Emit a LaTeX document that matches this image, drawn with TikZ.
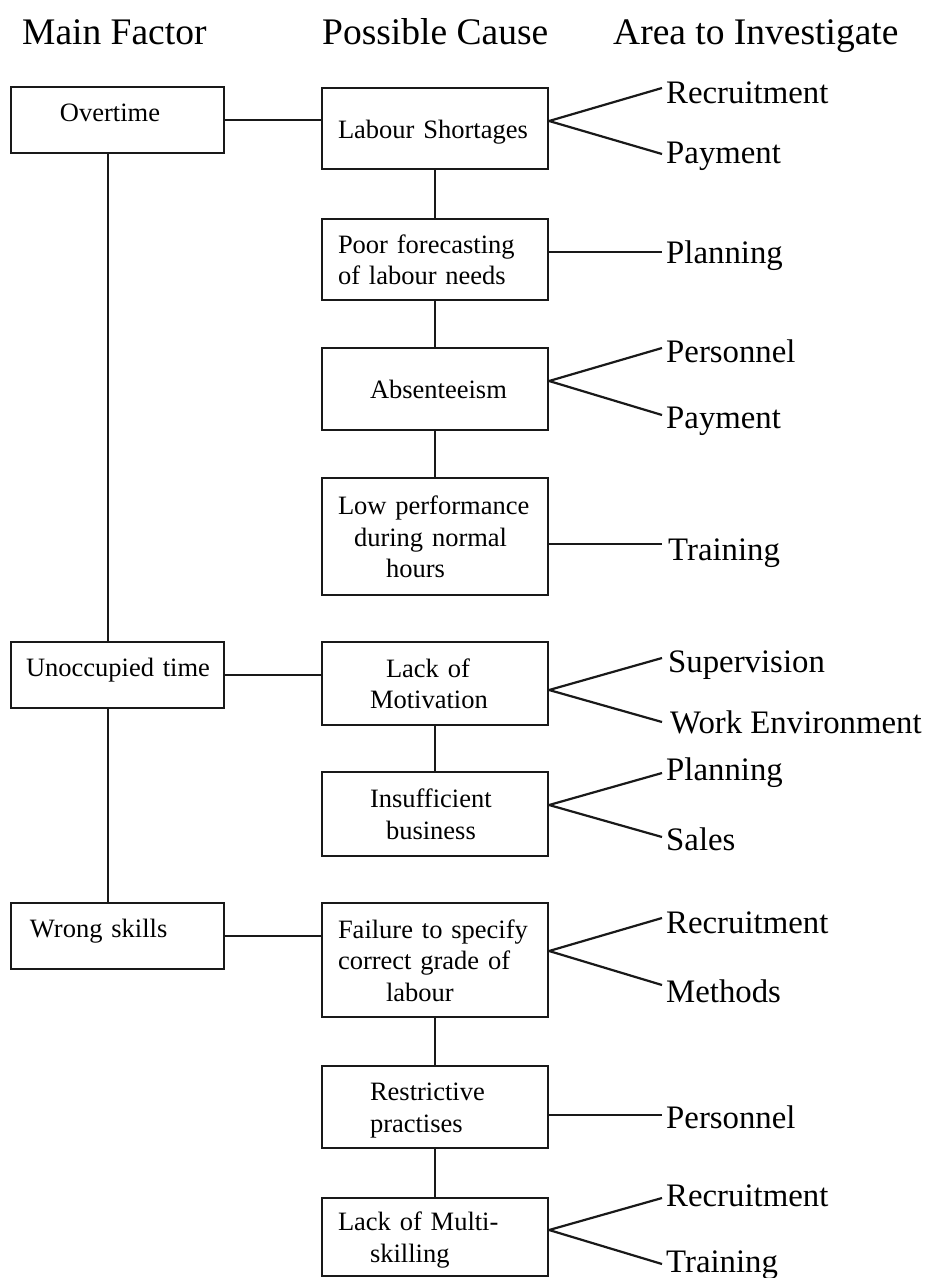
\documentclass[tikz,border=0pt]{standalone}
\usepackage{fontspec}
\setmainfont{Liberation Serif}
% struts that fix the line height inside the boxes
\newcommand\ms{\rule[-6pt]{0pt}{31pt}}
\newcommand\lms{\rule[-16pt]{0pt}{35pt}}
% left indent of a line inside a box
\newcommand\tabin[1]{\hspace*{#1pt}}
\begin{document}
\begin{tikzpicture}[x=1pt,y=-1pt,
  ink/.style={draw=black!90, line width=2.2pt},
  mainbox/.style={ink, rectangle, minimum width=213pt, inner xsep=12pt, inner ysep=0pt,
    text width=189pt, align=left, font=\fontsize{26.5}{31.5}\selectfont},
  causebox/.style={ink, rectangle, minimum width=226pt, inner xsep=16pt, inner ysep=0pt,
    text width=194pt, align=left, font=\fontsize{26.5}{31.5}\selectfont},
  area/.style={anchor=base west, inner sep=0pt, font=\fontsize{32.8}{38}\selectfont},
  head/.style={anchor=base west, inner sep=0pt, font=\fontsize{37.5}{44}\selectfont},
  link/.style={draw=black!90, line width=2.2pt}]
\useasboundingbox (0,0) rectangle (930,1278);

% column headings
\node[head] (h1) at (22,44) {Main Factor};
\node[head] (h2) at (322,44) {Possible Cause};
\node[head] (h3) at (613,44) {Area to Investigate};

% main factors
\node[mainbox, minimum height=66pt] (ot) at (117.5,120) {\lms\tabin{37}Overtime};
\node[mainbox, minimum height=66pt] (un) at (117.5,675) {\lms\mbox{\tabin{3}Unoccupied time}};
\node[mainbox, minimum height=66pt] (ws) at (117.5,936) {\lms\tabin{7}Wrong skills};

% possible causes
\node[causebox, minimum height=81pt] (lab) at (435,128.5) {\ms Labour Shortages};
\node[causebox, minimum height=81pt] (poor) at (435,259.5) {\ms Poor forecasting\\\ms of labour needs};
\node[causebox, minimum height=82pt] (abs) at (435,389) {\ms\tabin{32}Absenteeism};
\node[causebox, minimum height=117pt] (low) at (435,536.5) {\ms Low performance\\\ms\tabin{16}during normal\\\ms\tabin{48}hours};
\node[causebox, minimum height=83pt] (mot) at (435,683.5) {\ms\tabin{48}Lack of\\\ms\tabin{32}Motivation};
\node[causebox, minimum height=84pt] (ins) at (435,814) {\ms\tabin{32}Insufficient\\\ms\tabin{48}business};
\node[causebox, minimum height=114pt] (fail) at (435,960) {\ms Failure to specify\\\ms correct grade of\\\ms\tabin{48}labour};
\node[causebox, minimum height=82pt] (res) at (435,1107) {\ms\tabin{32}Restrictive\\\ms\tabin{32}practises};
\node[causebox, minimum height=78pt] (mul) at (435,1237) {\ms Lack of Multi-\\\ms\tabin{32}skilling};

% areas to investigate
\node[area] (a1) at (666,103) {Recruitment};
\node[area] (a2) at (666,163) {Payment};
\node[area] (a3) at (666,263) {Planning};
\node[area] (a4) at (666,362) {Personnel};
\node[area] (a5) at (666,428) {Payment};
\node[area] (a6) at (668,560) {Training};
\node[area] (a7) at (668,672) {Supervision};
\node[area] (a8) at (670,733) {Work Environment};
\node[area] (a9) at (666,780) {Planning};
\node[area] (a10) at (666,850) {Sales};
\node[area] (a11) at (666,933) {Recruitment};
\node[area] (a12) at (666,1002) {Methods};
\node[area] (a13) at (666,1128) {Personnel};
\node[area] (a14) at (666,1206) {Recruitment};
\node[area] (a15) at (666,1272) {Training};

% trunk of the main factors
\draw[link] ([xshift=-9.5pt]ot.south) -- ([xshift=-9.5pt]un.north);
\draw[link] ([xshift=-9.5pt]un.south) -- ([xshift=-9.5pt]ws.north);

% main factor to first cause
\draw[link] (ot.east) -- (ot.east -| lab.west);
\draw[link] (un.east) -- (un.east -| mot.west);
\draw[link] (ws.east) -- (ws.east -| fail.west);

% chains of causes
\draw[link] (lab.south) -- (poor.north);
\draw[link] (poor.south) -- (abs.north);
\draw[link] (abs.south) -- (low.north);
\draw[link] (mot.south) -- (ins.north);
\draw[link] (fail.south) -- (res.north);
\draw[link] (res.south) -- (mul.north);

% causes to areas
\draw[link] ([yshift=7.5pt]lab.east) -- ([xshift=-4pt,yshift=15pt]a1.base west);
\draw[link] ([yshift=7.5pt]lab.east) -- ([xshift=-4pt,yshift=9pt]a2.base west);
\draw[link] ([yshift=7.5pt]poor.east) -- ([xshift=-4pt,yshift=11pt]a3.base west);
\draw[link] ([yshift=8pt]abs.east) -- ([xshift=-4pt,yshift=14pt]a4.base west);
\draw[link] ([yshift=8pt]abs.east) -- ([xshift=-4pt,yshift=13pt]a5.base west);
\draw[link] ([yshift=-7.5pt]low.east) -- ([xshift=-6pt,yshift=16pt]a6.base west);
\draw[link] ([yshift=-6.5pt]mot.east) -- ([xshift=-6pt,yshift=14pt]a7.base west);
\draw[link] ([yshift=-6.5pt]mot.east) -- ([xshift=-8pt,yshift=11pt]a8.base west);
\draw[link] ([yshift=9pt]ins.east) -- ([xshift=-4pt,yshift=7pt]a9.base west);
\draw[link] ([yshift=9pt]ins.east) -- ([xshift=-4pt,yshift=13pt]a10.base west);
\draw[link] ([yshift=9pt]fail.east) -- ([xshift=-4pt,yshift=15pt]a11.base west);
\draw[link] ([yshift=9pt]fail.east) -- ([xshift=-4pt,yshift=17pt]a12.base west);
\draw[link] ([yshift=-8pt]res.east) -- ([xshift=-4pt,yshift=13pt]a13.base west);
\draw[link] ([yshift=7pt]mul.east) -- ([xshift=-4pt,yshift=8pt]a14.base west);
\draw[link] ([yshift=7pt]mul.east) -- ([xshift=-4pt,yshift=8pt]a15.base west);
\end{tikzpicture}
\end{document}
